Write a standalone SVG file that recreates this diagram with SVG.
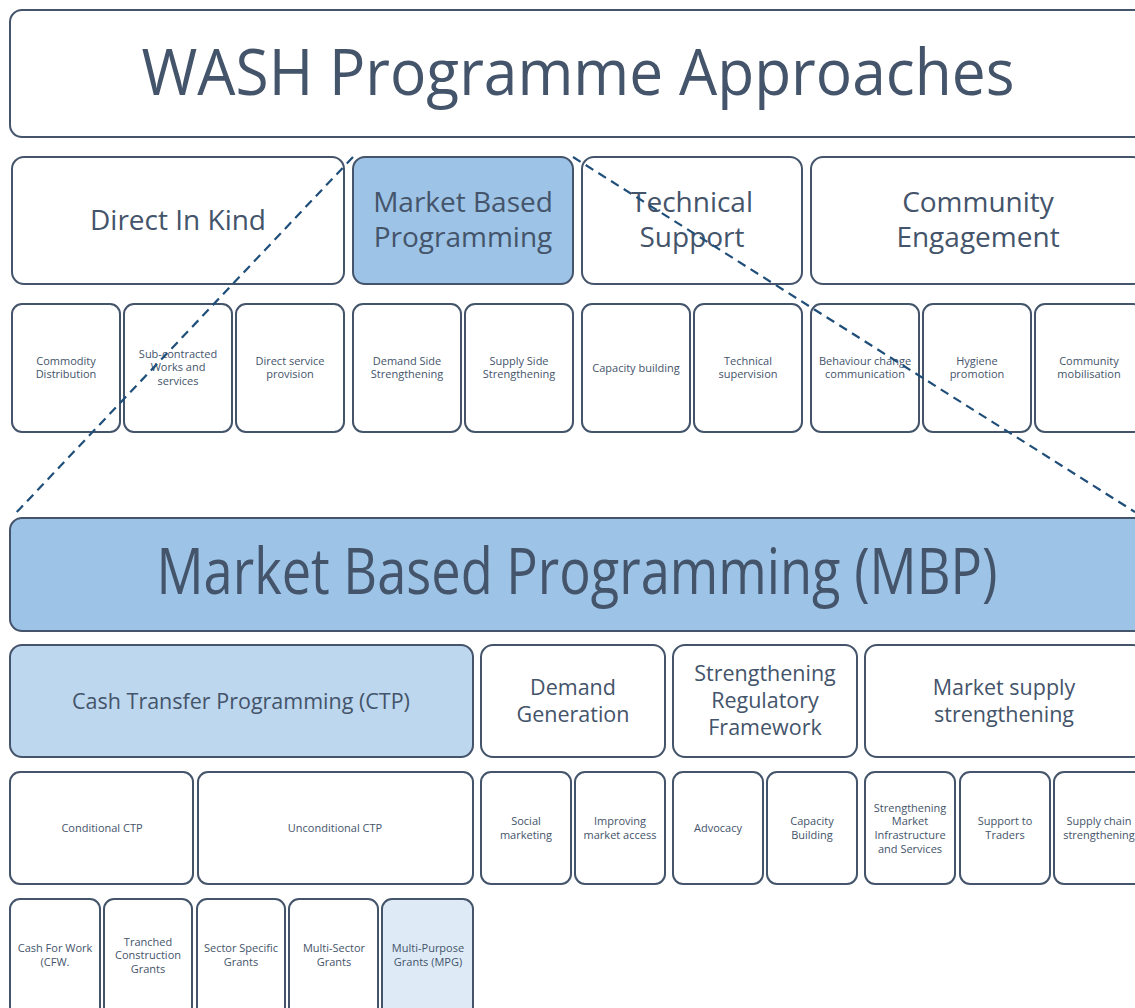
<svg xmlns="http://www.w3.org/2000/svg" width="1135" height="1008" viewBox="0 0 1135 1008">
<style>
rect{stroke:#44546A;stroke-width:2;fill:#FFFFFF}
.mid{fill:#9DC3E6}
.lt{fill:#BDD7EE}
.xl{fill:#DEEBF7}
text{font-family:"Open Sans","Liberation Sans",sans-serif;fill:#44546A;text-anchor:middle}
.h1{font-size:64px}
.h2{font-size:28px}
.h3{font-size:21.5px}
.s{font-size:11px}
.dash{stroke:#1F4E79;stroke-width:2.2;stroke-dasharray:9 6;fill:none}
</style>
<rect width="1135" height="1008" style="fill:#FFFFFF;stroke:none"/>

<g id="title">
<rect x="10" y="10" width="1140" height="127" rx="12"/>
<text class="h1" x="578" y="95" textLength="873" lengthAdjust="spacingAndGlyphs">WASH Programme Approaches</text>
</g>

<g id="direct-in-kind"><rect x="12" y="157" width="332" height="127" rx="12"/><text class="h2" x="178" y="230">Direct In Kind</text></g>
<g id="market-based"><rect class="mid" x="353" y="157" width="220" height="127" rx="12"/><text class="h2" x="463" y="212">Market Based</text><text class="h2" x="463" y="247">Programming</text></g>
<g id="technical-support"><rect x="582" y="157" width="220" height="127" rx="12"/><text class="h2" x="692" y="212">Technical</text><text class="h2" x="692" y="247">Support</text></g>
<g id="community-engagement"><rect x="811" y="157" width="334" height="127" rx="12"/><text class="h2" x="978" y="212">Community</text><text class="h2" x="978" y="247">Engagement</text></g>

<g id="commodity"><rect x="12" y="304" width="108" height="128" rx="10"/><text class="s" x="66" y="365">Commodity</text><text class="s" x="66" y="378">Distribution</text></g>
<g id="subcontracted"><rect x="124" y="304" width="108" height="128" rx="10"/><text class="s" x="178" y="358">Sub-contracted</text><text class="s" x="178" y="371">Works and</text><text class="s" x="178" y="385">services</text></g>
<g id="direct-service"><rect x="236" y="304" width="108" height="128" rx="10"/><text class="s" x="290" y="365">Direct service</text><text class="s" x="290" y="378">provision</text></g>
<g id="demand-side"><rect x="353" y="304" width="108" height="128" rx="10"/><text class="s" x="407" y="365">Demand Side</text><text class="s" x="407" y="378">Strengthening</text></g>
<g id="supply-side"><rect x="465" y="304" width="108" height="128" rx="10"/><text class="s" x="519" y="365">Supply Side</text><text class="s" x="519" y="378">Strengthening</text></g>
<g id="capacity-building"><rect x="582" y="304" width="108" height="128" rx="10"/><text class="s" x="636" y="372">Capacity building</text></g>
<g id="technical-supervision"><rect x="694" y="304" width="108" height="128" rx="10"/><text class="s" x="748" y="365">Technical</text><text class="s" x="748" y="378">supervision</text></g>
<g id="behaviour-change"><rect x="811" y="304" width="108" height="128" rx="10"/><text class="s" x="865" y="365">Behaviour change</text><text class="s" x="865" y="378">communication</text></g>
<g id="hygiene"><rect x="923" y="304" width="108" height="128" rx="10"/><text class="s" x="977" y="365">Hygiene</text><text class="s" x="977" y="378">promotion</text></g>
<g id="community-mobilisation"><rect x="1035" y="304" width="108" height="128" rx="10"/><text class="s" x="1089" y="365">Community</text><text class="s" x="1089" y="378">mobilisation</text></g>

<g id="mbp">
<rect class="mid" x="10" y="518" width="1140" height="113" rx="12"/>
<text class="h1" x="577" y="594" textLength="841" lengthAdjust="spacingAndGlyphs">Market Based Programming (MBP)</text>
</g>

<g id="ctp"><rect class="lt" x="10" y="645" width="463" height="112" rx="12"/><text class="h3" x="241" y="709">Cash Transfer Programming (CTP)</text></g>
<g id="demand-generation"><rect x="481" y="645" width="184" height="112" rx="12"/><text class="h3" x="573" y="695">Demand</text><text class="h3" x="573" y="722">Generation</text></g>
<g id="regulatory"><rect x="673" y="645" width="184" height="112" rx="12"/><text class="h3" x="765" y="681">Strengthening</text><text class="h3" x="765" y="708">Regulatory</text><text class="h3" x="765" y="735">Framework</text></g>
<g id="market-supply"><rect x="865" y="645" width="280" height="112" rx="12"/><text class="h3" x="1004" y="695">Market supply</text><text class="h3" x="1004" y="722">strengthening</text></g>

<g id="conditional"><rect x="10" y="772" width="183" height="112" rx="10"/><text class="s" x="102" y="832">Conditional CTP</text></g>
<g id="unconditional"><rect x="198" y="772" width="275" height="112" rx="10"/><text class="s" x="335" y="832">Unconditional CTP</text></g>
<g id="social-marketing"><rect x="481" y="772" width="90" height="112" rx="10"/><text class="s" x="526" y="825">Social</text><text class="s" x="526" y="839">marketing</text></g>
<g id="market-access"><rect x="575" y="772" width="90" height="112" rx="10"/><text class="s" x="620" y="825">Improving</text><text class="s" x="620" y="839">market access</text></g>
<g id="advocacy"><rect x="673" y="772" width="90" height="112" rx="10"/><text class="s" x="718" y="832">Advocacy</text></g>
<g id="capacity-building-2"><rect x="767" y="772" width="90" height="112" rx="10"/><text class="s" x="812" y="825">Capacity</text><text class="s" x="812" y="839">Building</text></g>
<g id="market-infrastructure"><rect x="865" y="772" width="90" height="112" rx="10"/><text class="s" x="910" y="812">Strengthening</text><text class="s" x="910" y="825">Market</text><text class="s" x="910" y="839">Infrastructure</text><text class="s" x="910" y="853">and Services</text></g>
<g id="support-traders"><rect x="960" y="772" width="90" height="112" rx="10"/><text class="s" x="1005" y="825">Support to</text><text class="s" x="1005" y="839">Traders</text></g>
<g id="supply-chain"><rect x="1054" y="772" width="90" height="112" rx="10"/><text class="s" x="1099" y="825">Supply chain</text><text class="s" x="1099" y="839">strengthening</text></g>

<g id="cfw"><rect x="10" y="899" width="90" height="120" rx="10"/><text class="s" x="55" y="952">Cash For Work</text><text class="s" x="55" y="966">(CFW.</text></g>
<g id="tranched"><rect x="104" y="899" width="88" height="120" rx="10"/><text class="s" x="148" y="946">Tranched</text><text class="s" x="148" y="959">Construction</text><text class="s" x="148" y="973">Grants</text></g>
<g id="sector-specific"><rect x="197" y="899" width="88" height="120" rx="10"/><text class="s" x="241" y="952">Sector Specific</text><text class="s" x="241" y="966">Grants</text></g>
<g id="multi-sector"><rect x="289" y="899" width="89" height="120" rx="10"/><text class="s" x="334" y="952">Multi-Sector</text><text class="s" x="334" y="966">Grants</text></g>
<g id="multi-purpose"><rect class="xl" x="382" y="899" width="91" height="120" rx="10"/><text class="s" x="428" y="952">Multi-Purpose</text><text class="s" x="428" y="966">Grants (MPG)</text></g>

<g id="connectors">
<line class="dash" x1="353" y1="157" x2="14" y2="515"/>
<line class="dash" x1="573" y1="157" x2="1135" y2="512"/>
</g>
</svg>
